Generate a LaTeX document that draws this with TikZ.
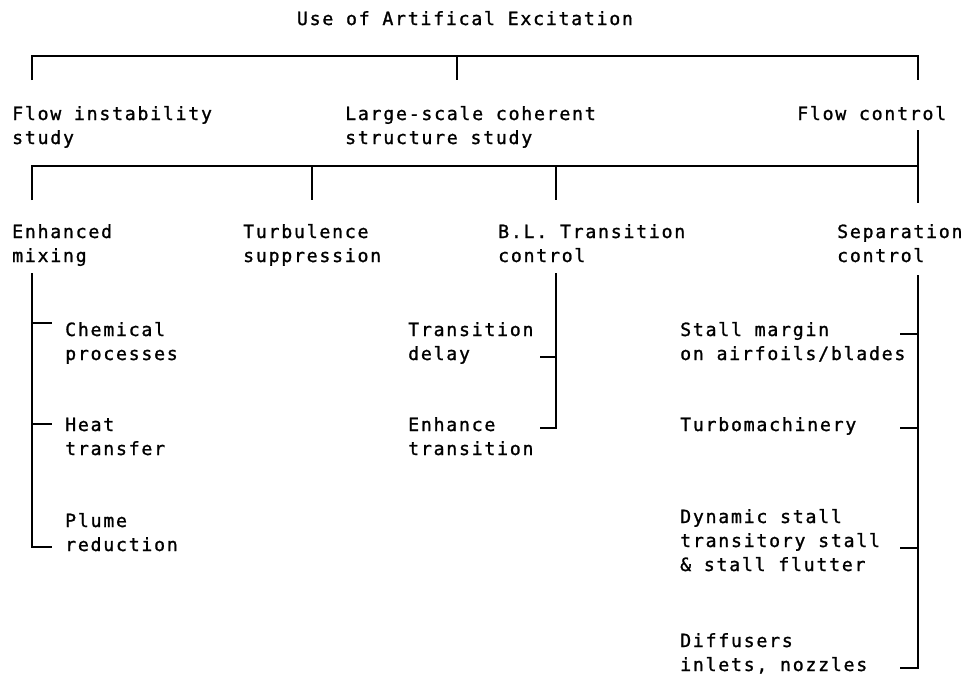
\documentclass[tikz,border=0pt]{standalone}
\usepackage{fontspec}
\setmonofont[LetterSpace=9.6,FakeBold=1.2]{DejaVu Sans Mono}
\newcommand\lblfont{\ttfamily\fontsize{18.2}{24}\selectfont}
\newcommand\ml[1]{\begin{tabular}[t]{@{}l@{}}#1\end{tabular}}
\tikzset{
  lbl/.style={anchor=base west, inner sep=0pt, font=\lblfont},
  wire/.style={line width=2.2pt, line cap=butt, line join=miter},
}
\begin{document}
\begin{tikzpicture}[x=1pt,y=-1pt]
\useasboundingbox (0,0) rectangle (970,680);
% texts
\node[lbl, anchor=base] (title) at (465,25) {Use of Artifical Excitation};
\node[lbl] (fis) at (12,120) {\ml{Flow instability\\study}};
\node[lbl] (lcs) at (345,120) {\ml{Large-scale coherent\\structure study}};
\node[lbl] (fc)  at (797,120) {\ml{Flow control}};
\node[lbl] (em)  at (12,238) {\ml{Enhanced\\mixing}};
\node[lbl] (ts)  at (243,238) {\ml{Turbulence\\suppression}};
\node[lbl] (bl)  at (498,238) {\ml{B.L. Transition\\control}};
\node[lbl] (sc)  at (837,238) {\ml{Separation\\control}};
\node[lbl] (cp)  at (65,336) {\ml{Chemical\\processes}};
\node[lbl] (ht)  at (65,431) {\ml{Heat\\transfer}};
\node[lbl] (pr)  at (65,527) {\ml{Plume\\reduction}};
\node[lbl] (td)  at (408,336) {\ml{Transition\\delay}};
\node[lbl] (et)  at (408,431) {\ml{Enhance\\transition}};
\node[lbl] (sm)  at (680,336) {\ml{Stall margin\\on airfoils/blades}};
\node[lbl] (tm)  at (680,431) {\ml{Turbomachinery}};
\node[lbl] (ds)  at (680,523) {\ml{Dynamic stall\\transitory stall\\\& stall flutter}};
\node[lbl] (df)  at (680,647) {\ml{Diffusers\\inlets, nozzles}};
% junction coordinates
\coordinate (t1) at (32,56);  \coordinate (t1e) at (32,80);
\coordinate (t2) at (457,56); \coordinate (t2e) at (457,80);
\coordinate (t3) at (918,56); \coordinate (t3e) at (918,80);
\coordinate (b0) at (918,130);
\coordinate (b1) at (32,166);  \coordinate (b1e) at (32,200);
\coordinate (b2) at (312,166); \coordinate (b2e) at (312,200);
\coordinate (b3) at (556,166); \coordinate (b3e) at (556,200);
\coordinate (b4) at (918,166); \coordinate (b4e) at (918,203);
\coordinate (m0) at (32,273); \coordinate (m1) at (32,323); \coordinate (m2) at (32,424); \coordinate (m3) at (32,547);
\coordinate (m1e) at (52,323); \coordinate (m2e) at (52,424); \coordinate (m3e) at (52,547);
\coordinate (l0) at (556,273); \coordinate (l1) at (556,357); \coordinate (l2) at (556,428);
\coordinate (l1e) at (540,357); \coordinate (l2e) at (540,428);
\coordinate (s0) at (918,275); \coordinate (s1) at (918,334); \coordinate (s2) at (918,428); \coordinate (s3) at (918,548); \coordinate (s4) at (918,668);
\coordinate (s1e) at (900,334); \coordinate (s2e) at (900,428); \coordinate (s3e) at (900,548); \coordinate (s4e) at (900,668);
% connectors
\draw[wire] (t1e) -- (t1) -- (t3) -- (t3e);
\draw[wire] (t2) -- (t2e);
\draw[wire] (b1e) -- (b1) -- (b4);
\draw[wire] (b0) -- (b4e);
\draw[wire] (b2) -- (b2e);
\draw[wire] (b3) -- (b3e);
\draw[wire] (m0) -- (m3) -- (m3e);
\draw[wire] (m1) -- (m1e);
\draw[wire] (m2) -- (m2e);
\draw[wire] (l0) -- (l2) -- (l2e);
\draw[wire] (l1) -- (l1e);
\draw[wire] (s0) -- (s4) -- (s4e);
\draw[wire] (s1) -- (s1e);
\draw[wire] (s2) -- (s2e);
\draw[wire] (s3) -- (s3e);
\end{tikzpicture}
\end{document}
